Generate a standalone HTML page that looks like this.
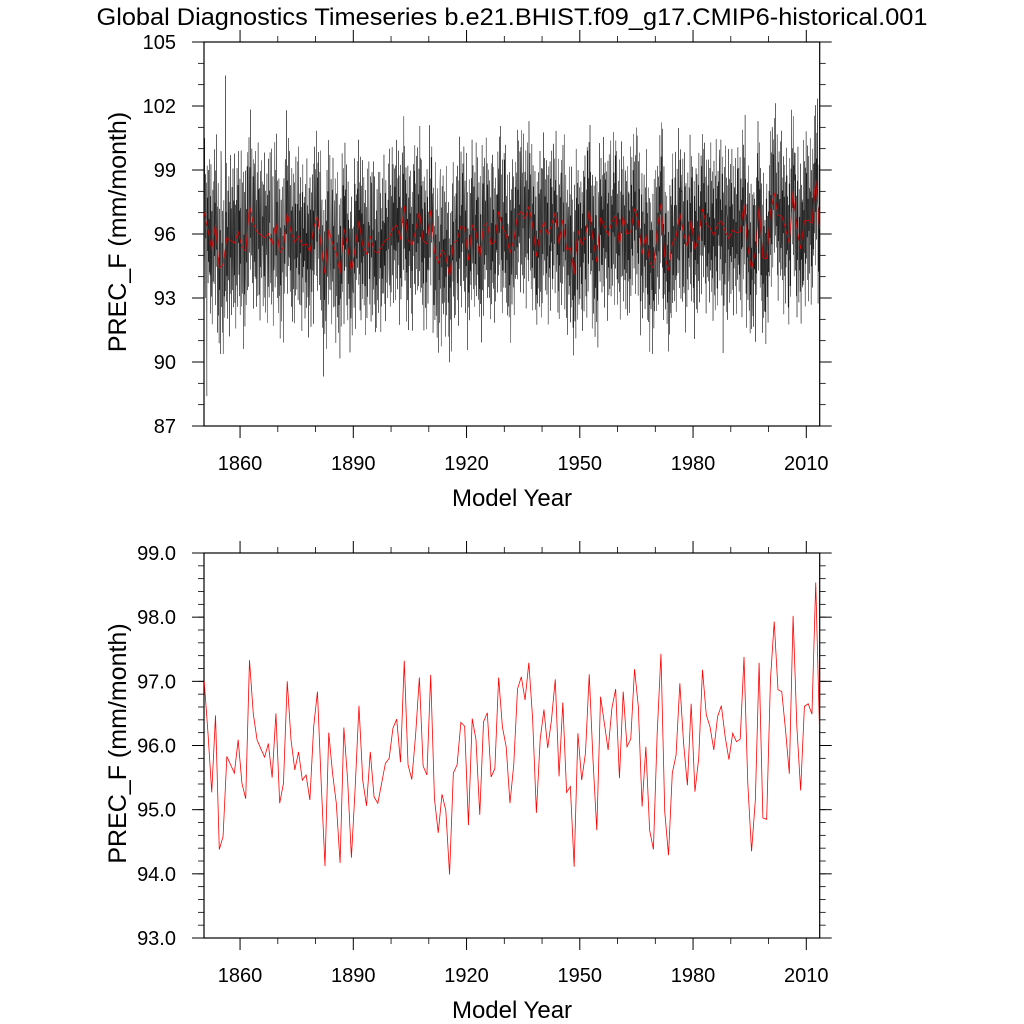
<!DOCTYPE html>
<html><head><meta charset="utf-8"><title>Global Diagnostics Timeseries</title>
<style>
html,body{margin:0;padding:0;background:#fff;}
svg{display:block;font-family:"Liberation Sans",Arial,sans-serif;}
</style></head>
<body>
<svg id="chart" width="1024" height="1024" viewBox="0 0 1024 1024" xmlns="http://www.w3.org/2000/svg">
<text x="512" y="25" font-size="24" text-anchor="middle" textLength="831" lengthAdjust="spacingAndGlyphs">Global Diagnostics Timeseries b.e21.BHIST.f09_g17.CMIP6-historical.001</text>
<g id="top"></g>
<g id="bot"></g>
</svg>
<script>
// Annual mean PREC_F (mm/month), 1850..2013
const annualValues = [97.0,96.2,95.27,96.47,94.38,94.58,95.83,95.7,95.57,96.09,95.41,95.17,97.33,96.5,96.09,95.95,95.82,96.03,95.5,96.5,95.1,95.41,97.0,96.09,95.62,95.9,95.46,95.54,95.15,96.29,96.84,95.41,94.12,96.2,95.57,95.1,94.17,96.28,95.46,94.25,95.35,96.62,95.46,95.06,95.9,95.2,95.1,95.41,95.72,95.8,96.27,96.41,95.74,97.32,95.7,95.47,96.16,97.06,95.68,95.54,97.1,95.17,94.64,95.24,94.99,93.99,95.57,95.7,96.36,96.3,94.76,96.42,96.09,94.92,96.37,96.51,95.51,95.64,97.06,96.29,95.98,95.1,95.7,96.88,97.07,96.71,97.29,96.42,94.95,96.09,96.56,95.96,96.4,97.03,95.52,96.67,95.27,95.36,94.11,96.19,95.46,95.88,97.11,95.77,94.68,96.76,96.35,95.93,96.58,96.88,95.49,96.84,95.98,96.1,97.19,96.61,95.05,95.98,94.68,94.38,96.19,97.43,94.97,94.29,95.57,95.85,96.97,96.03,95.38,96.65,95.28,95.8,97.18,96.48,96.29,95.93,96.45,96.62,96.14,95.78,96.19,96.06,96.1,97.38,95.41,94.35,95.15,97.29,94.87,94.85,97.02,97.93,96.87,96.84,96.24,95.56,98.02,96.29,95.3,96.61,96.65,96.49,98.54,96.24];
const firstYear = 1850;
// Monthly departures from the annual mean (tenths of mm/month)
const monthlyAnomTenths = [
50,12,-18,25,-30,8,-22,35,-5,-40,18,-12,
22,-35,-78,30,-10,15,-25,28,-15,5,-20,33,
-12,25,-30,40,-8,-22,18,-35,10,28,-15,-5,
20,-28,35,-15,10,-38,25,-5,-20,42,-12,8,
-30,15,40,-22,5,-35,28,-10,18,-40,12,55,
45,-20,10,-32,25,-8,-42,20,30,-15,5,-25,
-10,76,-25,12,-30,35,-18,5,-38,22,10,-20,
30,-12,-45,18,-8,40,-25,15,-35,-5,25,-10,
-22,35,8,-30,20,-15,42,-28,5,18,-40,12,
15,-25,30,-10,-35,22,-5,38,-20,10,-30,25,
-32,18,-8,45,-15,-28,12,30,-22,5,35,-48,
8,-20,28,-35,15,38,-12,-25,20,-5,40,-18,
25,-10,-38,12,32,-22,5,18,-30,45,-15,-8,
-15,35,10,-28,-5,22,-40,30,12,-18,28,-25,
38,-5,-22,15,-35,10,28,-12,-30,42,-8,20,
-28,22,12,-40,30,-15,5,35,-20,-10,25,-5,
10,-32,25,5,-18,40,-28,12,22,-35,15,-8,
-5,28,-42,18,10,-25,35,-15,-30,20,5,38,
30,-18,5,-28,45,-10,-22,15,32,-38,8,-12,
-20,12,38,-30,-8,25,-15,42,-25,10,-35,20,
15,-28,-10,35,-20,8,30,-40,12,-15,25,-5,
-35,20,28,-12,5,-45,18,32,-22,10,-8,40,
25,-15,-30,48,-10,15,-38,22,5,-25,35,-20,
-12,38,-5,-28,22,-18,10,-35,30,15,-42,12,
8,-22,32,-15,-38,28,-8,18,-25,40,-12,5,
-25,15,-10,35,-30,5,42,-18,12,-32,20,-8,
32,-28,18,-5,-40,25,-15,38,-22,8,-10,20,
-8,22,-35,12,28,-18,5,-30,40,-12,18,-25,
18,-40,10,30,-15,-25,35,-8,20,-35,12,28,
-30,12,25,-20,8,-45,30,-10,38,-22,5,15,
22,-15,-28,40,-12,18,-35,25,-5,30,-20,-8,
-18,35,8,-25,45,-10,-30,15,22,-38,10,-5,
5,-48,30,-12,20,-28,15,35,-22,-8,25,-35,
28,-10,-22,18,-35,42,-5,-28,12,35,-15,-20,
-22,30,12,-38,5,25,-18,40,-30,8,-12,20,
10,-25,35,-8,-42,15,28,-20,5,-30,38,-5,
-28,18,-15,32,10,-40,22,-12,35,-25,8,-5,
35,-12,-30,20,-8,28,-45,15,-20,40,-10,18,
-10,25,38,-28,15,-5,-35,30,-18,12,-25,8,
15,-38,12,28,-22,5,35,-15,-30,20,-8,-10,
-20,10,-28,42,-12,30,-38,8,22,-15,25,-5,
28,-22,15,-10,38,-30,5,-25,18,-42,30,12,
-35,28,-8,15,-25,40,-18,10,-5,32,-28,20,
12,-15,30,-38,8,22,-10,-30,40,-20,5,15,
-8,35,-20,5,-32,12,28,-15,-40,25,-10,30,
22,-30,10,-18,42,-8,-25,35,-12,15,-38,5,
-15,20,-35,30,-5,-22,15,38,-28,10,-12,25,
35,-10,25,-40,18,-28,8,-15,32,-22,12,-5,
-25,40,-12,8,-30,22,-38,28,-5,15,-20,10,
10,-28,18,-5,35,-15,-22,42,-10,-32,25,-18,
-30,15,-8,38,-22,5,30,-35,12,-10,28,-15,
18,-35,28,-12,-5,40,-25,8,-30,22,-8,35,
-12,30,-40,20,8,-18,35,-28,15,-5,-22,40,
25,-8,15,-30,42,-20,-10,28,-35,12,-25,18,
-38,22,-15,10,-28,35,5,-42,20,-12,30,-5,
15,-20,35,-8,-32,18,-12,25,-40,10,-5,38,
-5,28,-25,40,-15,-30,22,-10,35,-18,8,-28,
30,-15,8,-35,20,-5,-28,40,-12,25,-38,12,
-22,38,-10,15,-30,28,-20,5,-42,30,-8,18,
12,-30,25,-18,5,-40,35,-12,22,-28,15,-5,
-28,10,40,-22,15,-8,-35,25,-15,30,-10,8,
20,-38,-12,30,-25,12,-5,-32,42,-18,8,-30,
-10,25,-35,15,35,-20,-42,22,-8,10,-28,38,
38,-18,12,-45,20,-8,30,-25,-12,35,-30,5,
-15,30,-22,8,-38,25,-10,42,-28,12,-5,20,
25,-12,35,-28,10,-40,18,-5,30,-20,15,-35,
-32,15,-8,28,-18,38,-25,10,-5,-35,22,12,
8,-35,22,-10,30,-15,-28,35,-20,5,-40,28,
-20,42,-15,5,-28,18,35,-38,10,-12,25,-8,
30,-8,-25,38,-12,-30,15,22,-40,8,-18,35,
-8,20,32,-42,15,-22,5,-15,38,-28,12,-5,
15,-28,5,22,-35,40,-18,-8,28,-12,-30,18,
-35,12,28,-15,8,-25,42,-30,15,-5,35,-20,
28,-20,-10,35,-28,5,-15,38,-22,20,-8,-40,
-12,38,-30,10,20,-42,28,-5,-18,32,-25,12,
10,-15,40,-22,-8,28,-35,18,5,-30,25,-12,
-25,30,-5,-35,22,-12,38,-28,10,-18,42,-8,
35,-22,15,-8,-38,25,-15,30,-28,8,-5,22,
-18,8,-38,28,12,-30,20,-10,35,-25,5,40,
20,-30,25,-15,5,-40,32,-20,12,-8,-28,35,
-8,35,-18,42,-25,10,-32,18,-12,28,-38,5,
12,-25,8,-30,38,-15,-5,25,-42,20,-10,30,
-30,18,38,-12,-22,30,-8,-35,15,-5,25,-18,
25,-8,-28,20,-15,40,-30,12,-22,35,-10,5,
-15,28,12,-38,30,-5,-25,38,-10,-30,18,-8,
40,-35,-10,15,-28,22,5,-18,32,-42,10,18,
-22,12,30,-25,8,-35,40,-15,-5,25,-30,15,
15,-30,-8,38,-20,10,-40,28,-12,18,-25,5,
-10,40,-25,-5,28,-18,12,-32,35,-22,8,-15,
28,-12,18,-35,-8,38,-28,5,20,-40,30,-10,
-38,25,-15,10,42,-25,-8,30,-18,12,-32,20,
8,-18,35,-28,15,-10,28,-42,5,32,-20,-5,
-20,30,-40,22,-12,35,-8,18,-30,10,-25,38,
32,-25,10,-15,25,-38,15,-5,38,-12,-28,8,
-5,15,-32,40,-22,8,-35,28,-10,22,-18,30,
22,-40,28,-10,-30,18,35,-22,8,-15,40,-8,
-28,12,-5,35,-15,-32,22,10,-40,28,-12,20,
10,-22,38,-18,5,25,-35,15,-28,38,-5,-12,
-12,35,-25,8,-38,20,-10,42,-22,5,30,-30,
38,-10,15,-28,22,-42,28,-5,12,-35,20,-15,
-25,20,-10,30,-18,8,-30,25,-40,15,-8,35,
15,-35,28,-8,38,-20,5,-28,22,-12,-38,42,
-8,28,-38,15,-25,32,-12,-5,40,-30,18,-20,
25,-15,8,-42,30,-10,20,-35,12,25,-28,5,
-35,40,-12,22,-5,-28,38,-18,8,-40,15,30,
12,-25,35,-15,-30,18,-8,28,-22,10,-35,20,
-18,8,-28,42,-10,25,-38,5,30,-15,22,-12,
30,-20,-5,15,-40,35,-15,20,-28,38,-8,-25,
-12,25,38,-35,12,-22,8,-30,15,-5,42,-20,
20,-42,15,-10,28,-25,35,-8,-18,30,-30,10,
-28,15,-18,30,-5,40,-22,12,-35,8,25,-15,
35,-8,22,-28,-15,10,-40,28,18,-25,5,-30,
-5,30,-35,12,25,-18,5,-38,32,-12,20,-22,
18,-38,10,-22,40,-12,-30,22,-8,35,-25,12,
-22,18,-8,35,-28,22,-15,8,-40,25,-10,38,
10,-25,40,-15,5,-35,28,-20,15,-8,32,-28,
-38,12,-22,28,-10,38,-5,-30,20,-18,8,25,
28,-15,5,-35,22,-8,-25,40,-12,15,-40,10,
-15,35,-28,8,-20,30,-42,15,-5,28,-22,18,
22,-10,18,-40,35,-15,10,-28,42,-20,-8,5,
-30,28,-12,20,-38,5,30,-22,8,-35,25,-10,
8,-40,32,-5,15,-28,22,-15,38,-10,-30,35,
-20,15,-30,42,-18,10,-8,30,-25,20,-12,-5,
35,-25,12,-15,28,-38,18,-10,5,-30,40,-20,
-10,22,-35,18,-5,30,-28,42,-15,8,-22,12,
15,-30,28,-20,40,-8,-35,15,-18,32,-10,5,
-28,40,-5,-22,12,-35,25,-8,30,-40,18,10,
20,-12,-32,35,-25,15,-10,-28,38,-5,22,-18,
-40,30,15,-8,-28,22,-15,35,-20,12,-5,28,
12,-22,40,-30,8,-15,30,-38,20,-10,25,-8,
-18,10,-25,32,-42,25,-5,18,-12,38,-28,5,
30,-35,8,-12,25,-20,40,-15,-30,15,-8,22,
-8,25,-40,20,-15,35,-22,5,28,-32,12,-18,
38,-10,22,-28,10,-42,15,30,-20,5,-25,18,
-25,32,-12,5,-35,28,-8,-20,40,-15,22,-30,
15,-20,30,-40,22,-5,35,-28,8,-12,-35,28,
-15,40,-22,12,-30,18,-38,25,-5,20,-10,35,
28,-28,10,-18,38,-12,5,-35,22,-25,30,-62,
-5,18,-35,30,-10,-25,40,-15,12,-38,25,8,
10,-38,25,-5,42,-20,-12,28,-30,15,-8,35,
-30,22,-15,38,-8,12,-28,5,-40,30,-18,20,
20,-12,35,-25,5,-38,18,-10,30,-22,40,-15,
-12,30,-28,10,-20,35,-5,-32,25,-8,15,-40,
35,-20,8,-35,28,-10,22,-15,-28,42,-5,12,
-22,15,-38,20,-5,30,-25,38,-12,8,-30,25,
12,-30,22,-12,40,-28,10,-5,35,-18,-22,30,
-35,28,-8,25,-15,5,-42,22,-10,35,-20,15,
25,-8,40,-30,12,-22,30,-15,8,-38,18,-5,
-8,35,-20,5,-35,25,-12,40,-28,15,-5,-25,
18,-25,12,-40,28,-8,35,-18,20,-10,-30,22,
-28,10,-30,22,-12,38,-20,8,-35,28,-15,40,
30,-35,18,-8,25,-15,-28,35,-5,-20,42,-12,
-15,20,-5,38,-28,10,-40,25,-12,30,-22,5,
8,-28,35,-15,-10,40,-25,12,-30,18,-8,28,
-40,15,-22,30,-5,-35,22,-18,38,-12,25,-10,
22,-12,-30,18,-38,28,-8,40,-20,5,-25,35,
-10,38,-15,-25,20,-8,35,-30,12,-40,18,5,
35,-20,25,-5,-32,15,-42,22,-15,38,-10,-28,
-25,28,-10,15,-20,40,-12,-35,30,-5,22,-18,
10,-30,38,-28,5,-15,28,-10,-40,25,-20,42,
-18,22,-8,35,-28,10,-38,30,-5,15,-25,8,
40,-10,15,-38,25,-20,12,-30,35,-12,28,-15,
-5,30,-25,8,-40,35,-15,22,-28,10,-8,38,
22,-35,10,-20,30,-5,42,-25,15,-35,20,-12,
-30,18,-15,40,-10,25,-22,5,-38,30,-18,28,
15,-20,35,-12,-28,20,-8,38,-15,-45,70,-25,
-10,42,-30,18,-5,-22,30,-35,12,25,-15,8,
28,-28,8,-40,35,-12,22,-18,40,-25,-62,30,
-20,15,-38,25,-8,30,-15,-28,38,-10,20,-5,
12,-35,30,-8,-20,42,-28,15,-10,35,-22,18,
-8,25,-15,38,-30,12,-5,28,-42,20,-12,35,
38,-12,20,-28,10,-35,30,-15,22,-40,15,-58];

const MON_X0 = 204, MON_X1 = 819.7;
const T0 = 1850.45, T1 = 2013.55;
const xTicksMajor = [1860,1890,1920,1950,1980,2010];
const xTicksMinor = [1870,1880,1900,1910,1930,1940,1960,1970,1990,2000];
const topYTicks = [87,90,93,96,99,102,105];
const topYLabels = ["87","90","93","96","99","102","105"];
const botYTicks = [93,94,95,96,97,98,99];
const botYLabels = ["93.0","94.0","95.0","96.0","97.0","98.0","99.0"];

const NS = "http://www.w3.org/2000/svg";
function mk(tag, attrs, parent){
  const e = document.createElementNS(NS, tag);
  for (const k in attrs) e.setAttribute(k, attrs[k]);
  if (parent) parent.appendChild(e);
  return e;
}
function xScale(t){ return MON_X0 + (t - T0) / (T1 - T0) * (MON_X1 - MON_X0); }

function panel(g, top, bottom, ymin, ymax, yTicks, yLabels, minorStep, id){
  const yScale = v => bottom - (v - ymin) / (ymax - ymin) * (bottom - top);
  const clip = mk('clipPath', {id: 'clip-' + id}, g);
  mk('rect', {x: MON_X0, y: top, width: MON_X1 - MON_X0, height: bottom - top}, clip);
  for (let i = 0; i < yTicks.length; i++) {
    const y = yScale(yTicks[i]);
    const tl = mk('line', {x1: MON_X0 - 12, x2: MON_X0, y1: y, y2: y, stroke: '#000', 'stroke-width': 1}, g);
    
    
    const tr = mk('line', {x1: MON_X1, x2: MON_X1 + 12, y1: y, y2: y, stroke: '#000', 'stroke-width': 1}, g);
    
    
    const lab = mk('text', {x: 176, y: y + 7, 'font-size': 20, 'text-anchor': 'end'}, g);
    lab.textContent = yLabels[i];
    
    
  }
  for (let v = ymin; v <= ymax + 1e-6; v += minorStep) {
    const y = yScale(v);
    const ml = mk('line', {x1: MON_X0 - 6, x2: MON_X0, y1: y, y2: y, stroke: '#000', 'stroke-width': 0.8}, g);
    
    
    const mr = mk('line', {x1: MON_X1, x2: MON_X1 + 6, y1: y, y2: y, stroke: '#000', 'stroke-width': 0.8}, g);
    
    
  }
  for (const t of xTicksMajor) {
    const x = xScale(t);
    const a = mk('line', {x1: x, x2: x, y1: bottom, y2: bottom + 12, stroke: '#000', 'stroke-width': 1}, g);
    
    
    const b = mk('line', {x1: x, x2: x, y1: top - 12, y2: top, stroke: '#000', 'stroke-width': 1}, g);
    
    
    const lab = mk('text', {x: x, y: bottom + 44, 'font-size': 20, 'text-anchor': 'middle'}, g);
    lab.textContent = String(t);
    
    
  }
  for (const t of xTicksMinor) {
    const x = xScale(t);
    const a = mk('line', {x1: x, x2: x, y1: bottom, y2: bottom + 6, stroke: '#000', 'stroke-width': 0.8}, g);
    
    
    const b = mk('line', {x1: x, x2: x, y1: top - 6, y2: top, stroke: '#000', 'stroke-width': 0.8}, g);
    
    
  }
  const xt = mk('text', {x: 512, y: bottom + 80, 'font-size': 24, 'text-anchor': 'middle'}, g);
  xt.textContent = 'Model Year';
  
  
  const cy = (top + bottom) / 2 - 2;
  const yt = mk('text', {x: 0, y: 0, 'font-size': 25, 'text-anchor': 'middle', transform: 'translate(126,' + cy + ') rotate(-90)'}, g);
  yt.textContent = 'PREC_F (mm/month)';
  
  
  const frame = mk('rect', {x: MON_X0, y: top, width: MON_X1 - MON_X0, height: bottom - top, fill: 'none', stroke: '#000', 'stroke-width': 1.2}, g);
  
  
  return yScale;
}

const gTop = document.getElementById('top');
const yTop = panel(gTop, 42, 426, 87, 105, topYTicks, topYLabels, 1, 'top');
let dMon = '';
const nMon = Math.min(monthlyAnomTenths.length, annualValues.length * 12);
for (let j = 0; j < nMon; j++) {
  const yr = Math.floor(j / 12), m = j % 12;
  const v = annualValues[yr] + monthlyAnomTenths[j] / 10;
  const t = firstYear + yr + (m + 0.5) / 12;
  dMon += (j ? 'L' : 'M') + xScale(t).toFixed(2) + ',' + yTop(v).toFixed(2);
}
const monLine = mk('path', {d: dMon, fill: 'none', stroke: '#111', 'stroke-width': 0.45, 'clip-path': 'url(#clip-top)'}, gTop);


let dAnnTop = '';
annualValues.forEach((v, i) => {
  dAnnTop += (i ? 'L' : 'M') + xScale(firstYear + i + 0.5).toFixed(2) + ',' + yTop(v).toFixed(2);
});
const annTop = mk('path', {d: dAnnTop, fill: 'none', stroke: '#e00', 'stroke-width': 0.7, 'clip-path': 'url(#clip-top)'}, gTop);



const gBot = document.getElementById('bot');
const yBot = panel(gBot, 553, 938, 93, 99, botYTicks, botYLabels, 0.2, 'bot');
let dAnn = '';
annualValues.forEach((v, i) => {
  dAnn += (i ? 'L' : 'M') + xScale(firstYear + i + 0.5).toFixed(2) + ',' + yBot(v).toFixed(2);
});
const annLine = mk('path', {d: dAnn, fill: 'none', stroke: '#f00', 'stroke-width': 0.8, 'clip-path': 'url(#clip-bot)'}, gBot);


</script>
</body></html>
